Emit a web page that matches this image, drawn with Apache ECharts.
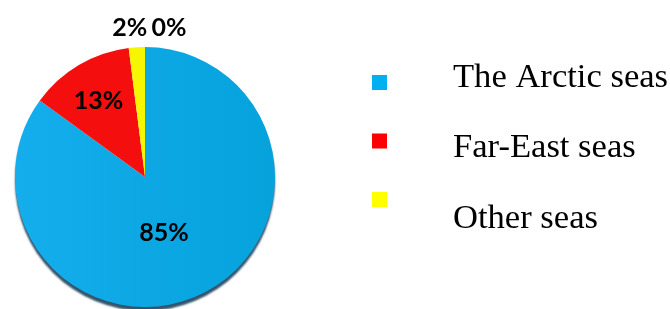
<!DOCTYPE html>
<html>
<head>
<meta charset="utf-8">
<script src="https://cdn.jsdelivr.net/npm/echarts@6/dist/echarts.min.js"></script>
<style>
    html, body { margin: 0; padding: 0; background: #fff; }
    #chart { width: 670px; height: 309px; }
</style>
</head>
<body>
<div id="chart"></div>
<script>
// 各海域所占比例
const seaNames = ['The Arctic seas', 'Far-East seas', 'Other seas', ''];
const seaShares = [85, 13, 2, 0];
const legendColors = ['#00b0f0', '#ff0000', '#ffff00'];

// label 偏移，手工调出来的
const labelOffsets = [[-12, -5], [-12, -18], [-11, -81], [24, -81]];

function sliceColor(i) {
    if (i === 0) {
        return new echarts.graphic.LinearGradient(0, 0, 1, 0, [
            { offset: 0, color: '#14aeec' },
            { offset: 1, color: '#05a2dc' },
        ]);
    }
    return ['', '#f40e0e', '#f6f600', '#f6f600'][i];
}

function drawPie() {
    const chart = echarts.init(document.getElementById('chart'));
    const legendItems = seaNames.slice(0, 3).map((name, i) => ({
        name: name,
        itemStyle: { color: legendColors[i] },
    }));
    const option = {
        animation: false,
        legend: [
            {
                // 只画方块
                data: legendItems,
                orient: 'vertical',
                left: 372,
                top: 75,
                padding: 0,
                icon: 'rect',
                itemWidth: 15,
                itemHeight: 15,
                itemGap: 43.5,
                selectedMode: false,
                formatter: () => '',
                textStyle: { fontSize: 10, lineHeight: 10 },
            },
            {
                // 只画文字
                data: legendItems,
                orient: 'vertical',
                left: 448,
                top: 60,
                padding: 0,
                icon: 'rect',
                itemWidth: 0,
                itemHeight: 0,
                itemGap: 35.5,
                selectedMode: false,
                textStyle: {
                    fontFamily: 'Liberation Serif',
                    fontSize: 34.6,
                    lineHeight: 35,
                    color: '#000',
                },
            },
        ],
        series: [
            {
                type: 'pie',
                center: [145, 177],
                radius: 130,
                startAngle: 90,
                clockwise: true,
                emphasis: { disabled: true },
                labelLine: { show: false },
                label: {
                    show: true,
                    position: 'inside',
                    formatter: '{c}%',
                    fontFamily: 'Lato',
                    fontWeight: 'bold',
                    fontSize: 25,
                    color: '#000',
                },
                data: seaShares.map((v, i) => ({
                    name: seaNames[i],
                    value: v,
                    itemStyle: i === 0
                        ? {
                              color: sliceColor(0),
                              shadowBlur: 2,
                              shadowColor: 'rgba(0,40,70,0.8)',
                              shadowOffsetY: 4,
                          }
                        : { color: sliceColor(i) },
                    label: { offset: labelOffsets[i] },
                })),
            },
        ],
    };
    chart.setOption(option);
    return chart;
}

drawPie();
</script>
</body>
</html>
